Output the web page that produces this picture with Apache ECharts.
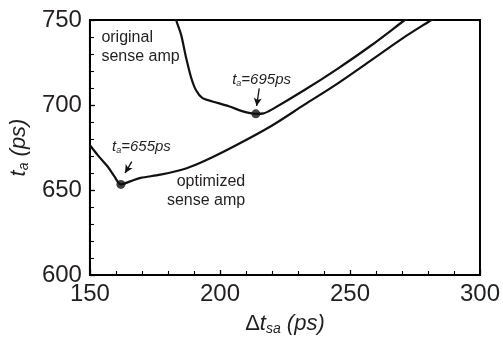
<!DOCTYPE html>
<html>
<head>
<meta charset="utf-8">
<script src="https://cdn.jsdelivr.net/npm/echarts@6/dist/echarts.min.js"></script>
<style>
html,body{margin:0;padding:0;background:#fff;}
#chart{width:503px;height:341px;}
</style>
</head>
<body>
<div id="chart"></div>
<script>
// ---- data ----
const xTicks = [150, 200, 250, 300];
const yTicks = [600, 650, 700, 750];
const originalX = [182.5, 183.15, 185.05, 186.95, 188.85, 190.75, 193.3, 197.1, 203.4, 208.5, 213.8, 216.8, 219.9, 232.5, 245.2, 257.85, 271.1, 272.0];
const originalY = [755.0, 750.0, 741.4, 728.0, 716.5, 708.8, 704.0, 702.1, 699.3, 696.4, 694.8, 695.1, 697.3, 708.8, 721.3, 734.7, 750.0, 751.0];
const optimizedX = [150.0, 153.0, 156.8, 159.4, 161.9, 165.7, 169.5, 177.1, 187.2, 194.8, 206.2, 219.9, 232.5, 245.2, 257.85, 270.5, 281.3, 282.5];
const optimizedY = [676.3, 670.5, 663.8, 658.0, 653.3, 655.2, 657.1, 659.0, 662.8, 667.6, 676.3, 687.8, 700.2, 712.6, 726.0, 739.5, 750.0, 751.2];
const minimaX = [161.9, 213.8];
const minimaY = [653.3, 694.8];
const minimaLabels = ['655ps', '695ps'];

const FONT = 'Liberation Sans, Arial, sans-serif';
const INK = '#231f20';

const chart = echarts.init(document.getElementById('chart'), null, {renderer: 'canvas'});

const zip = (xs, ys) => xs.map((x, i) => [x, ys[i]]);

// arrow endpoints relative to each minimum (data-space offsets)
const arrowStart = [[4.2, 13.4], [1.3, 15.0]];
const arrowEnd = [[1.6, 6.7], [0.3, 4.6]];

const axisCommon = {
  type: 'value',
  axisLine: {show: true, lineStyle: {color: '#000', width: 2}},
  axisTick: {show: true, inside: true, length: 5, lineStyle: {color: '#000', width: 1.3}},
  minorTick: {show: true, splitNumber: 5, length: 4, lineStyle: {color: '#000', width: 1.1}},
  splitLine: {show: false},
  minorSplitLine: {show: false},
  axisLabel: {fontSize: 24, color: INK, fontFamily: FONT}
};

const option = {
  animation: false,
  backgroundColor: '#fff',
  grid: {left: 86, right: 22, top: 20, bottom: 60, show: true, borderColor: '#000', borderWidth: 2, containLabel: false},
  xAxis: Object.assign({}, axisCommon, {
    min: xTicks[0], max: xTicks[xTicks.length - 1], interval: xTicks[1] - xTicks[0],
    axisLabel: Object.assign({}, axisCommon.axisLabel, {margin: 7}),
    name: '{n|Δ}{i|t}{s|sa}{i| (ps)}',
    nameLocation: 'middle',
    nameGap: 37,
    nameTextStyle: {
      rich: {
        n: {fontSize: 22, color: INK, fontFamily: FONT},
        i: {fontSize: 22, color: INK, fontFamily: FONT, fontStyle: 'italic'},
        s: {fontSize: 14, color: INK, fontFamily: FONT, fontStyle: 'italic', padding: [10, 0, 0, 0]}
      }
    }
  }),
  yAxis: Object.assign({}, axisCommon, {
    min: yTicks[0], max: yTicks[yTicks.length - 1], interval: yTicks[1] - yTicks[0],
    axisLabel: Object.assign({}, axisCommon.axisLabel, {margin: 8}),
    name: '{i|t}{s|a}{i| (ps)}',
    nameLocation: 'middle',
    nameGap: 54,
    nameTextStyle: {
      rich: {
        i: {fontSize: 22, color: INK, fontFamily: FONT, fontStyle: 'italic'},
        s: {fontSize: 14, color: INK, fontFamily: FONT, fontStyle: 'italic', padding: [10, 0, 0, 0]}
      }
    }
  }),
  series: [
    {
      type: 'line', name: 'original', data: zip(originalX, originalY),
      smooth: 0.3, showSymbol: false, symbol: 'none', clip: true,
      lineStyle: {color: '#111', width: 2.2}
    },
    {
      type: 'line', name: 'optimized', data: zip(optimizedX, optimizedY),
      smooth: 0.3, showSymbol: false, symbol: 'none', clip: true,
      lineStyle: {color: '#111', width: 2.2}
    },
    {
      type: 'scatter', name: 'minima', data: zip(minimaX, minimaY),
      symbolSize: 9, itemStyle: {color: '#111'}, z: 5,
      markLine: {
        silent: true,
        symbol: ['none', 'arrow'],
        symbolSize: [6, 8],
        label: {show: false},
        lineStyle: {color: '#111', width: 1.3, type: 'solid'},
        data: minimaX.map((x, i) => [
          {coord: [x + arrowStart[i][0], minimaY[i] + arrowStart[i][1]]},
          {coord: [x + arrowEnd[i][0], minimaY[i] + arrowEnd[i][1]]}
        ])
      }
    }
  ]
};
chart.setOption(option);

// ---- text annotations anchored in data space ----
const annoRich = {
  i: {fontSize: 15, fontStyle: 'italic', fill: INK, fontFamily: FONT},
  s: {fontSize: 9, fontStyle: 'italic', fill: INK, fontFamily: FONT, padding: [7, 0, 0, 0]}
};
const notes = [
  {at: [154.4, 734.2], text: 'original\nsense amp', align: 'left'},
  {at: [209.7, 649.2], text: 'optimized\nsense amp', align: 'right'}
];
const taNotes = [
  {at: [158.5, 675.5], val: minimaLabels[0]},
  {at: [204.7, 715.0], val: minimaLabels[1]}
];
const graphics = [];
notes.forEach(n => {
  const p = chart.convertToPixel({gridIndex: 0}, n.at);
  graphics.push({
    type: 'text', x: p[0], y: p[1], silent: true,
    style: {text: n.text, fontSize: 16, lineHeight: 19, fill: INK, fontFamily: FONT, align: n.align, verticalAlign: 'middle'}
  });
});
taNotes.forEach(n => {
  const p = chart.convertToPixel({gridIndex: 0}, n.at);
  graphics.push({
    type: 'text', x: p[0], y: p[1], silent: true,
    style: {text: '{i|t}{s|a}{i|=' + n.val + '}', rich: annoRich, align: 'left', verticalAlign: 'middle'}
  });
});
chart.setOption({graphic: graphics});
</script>
</body>
</html>
